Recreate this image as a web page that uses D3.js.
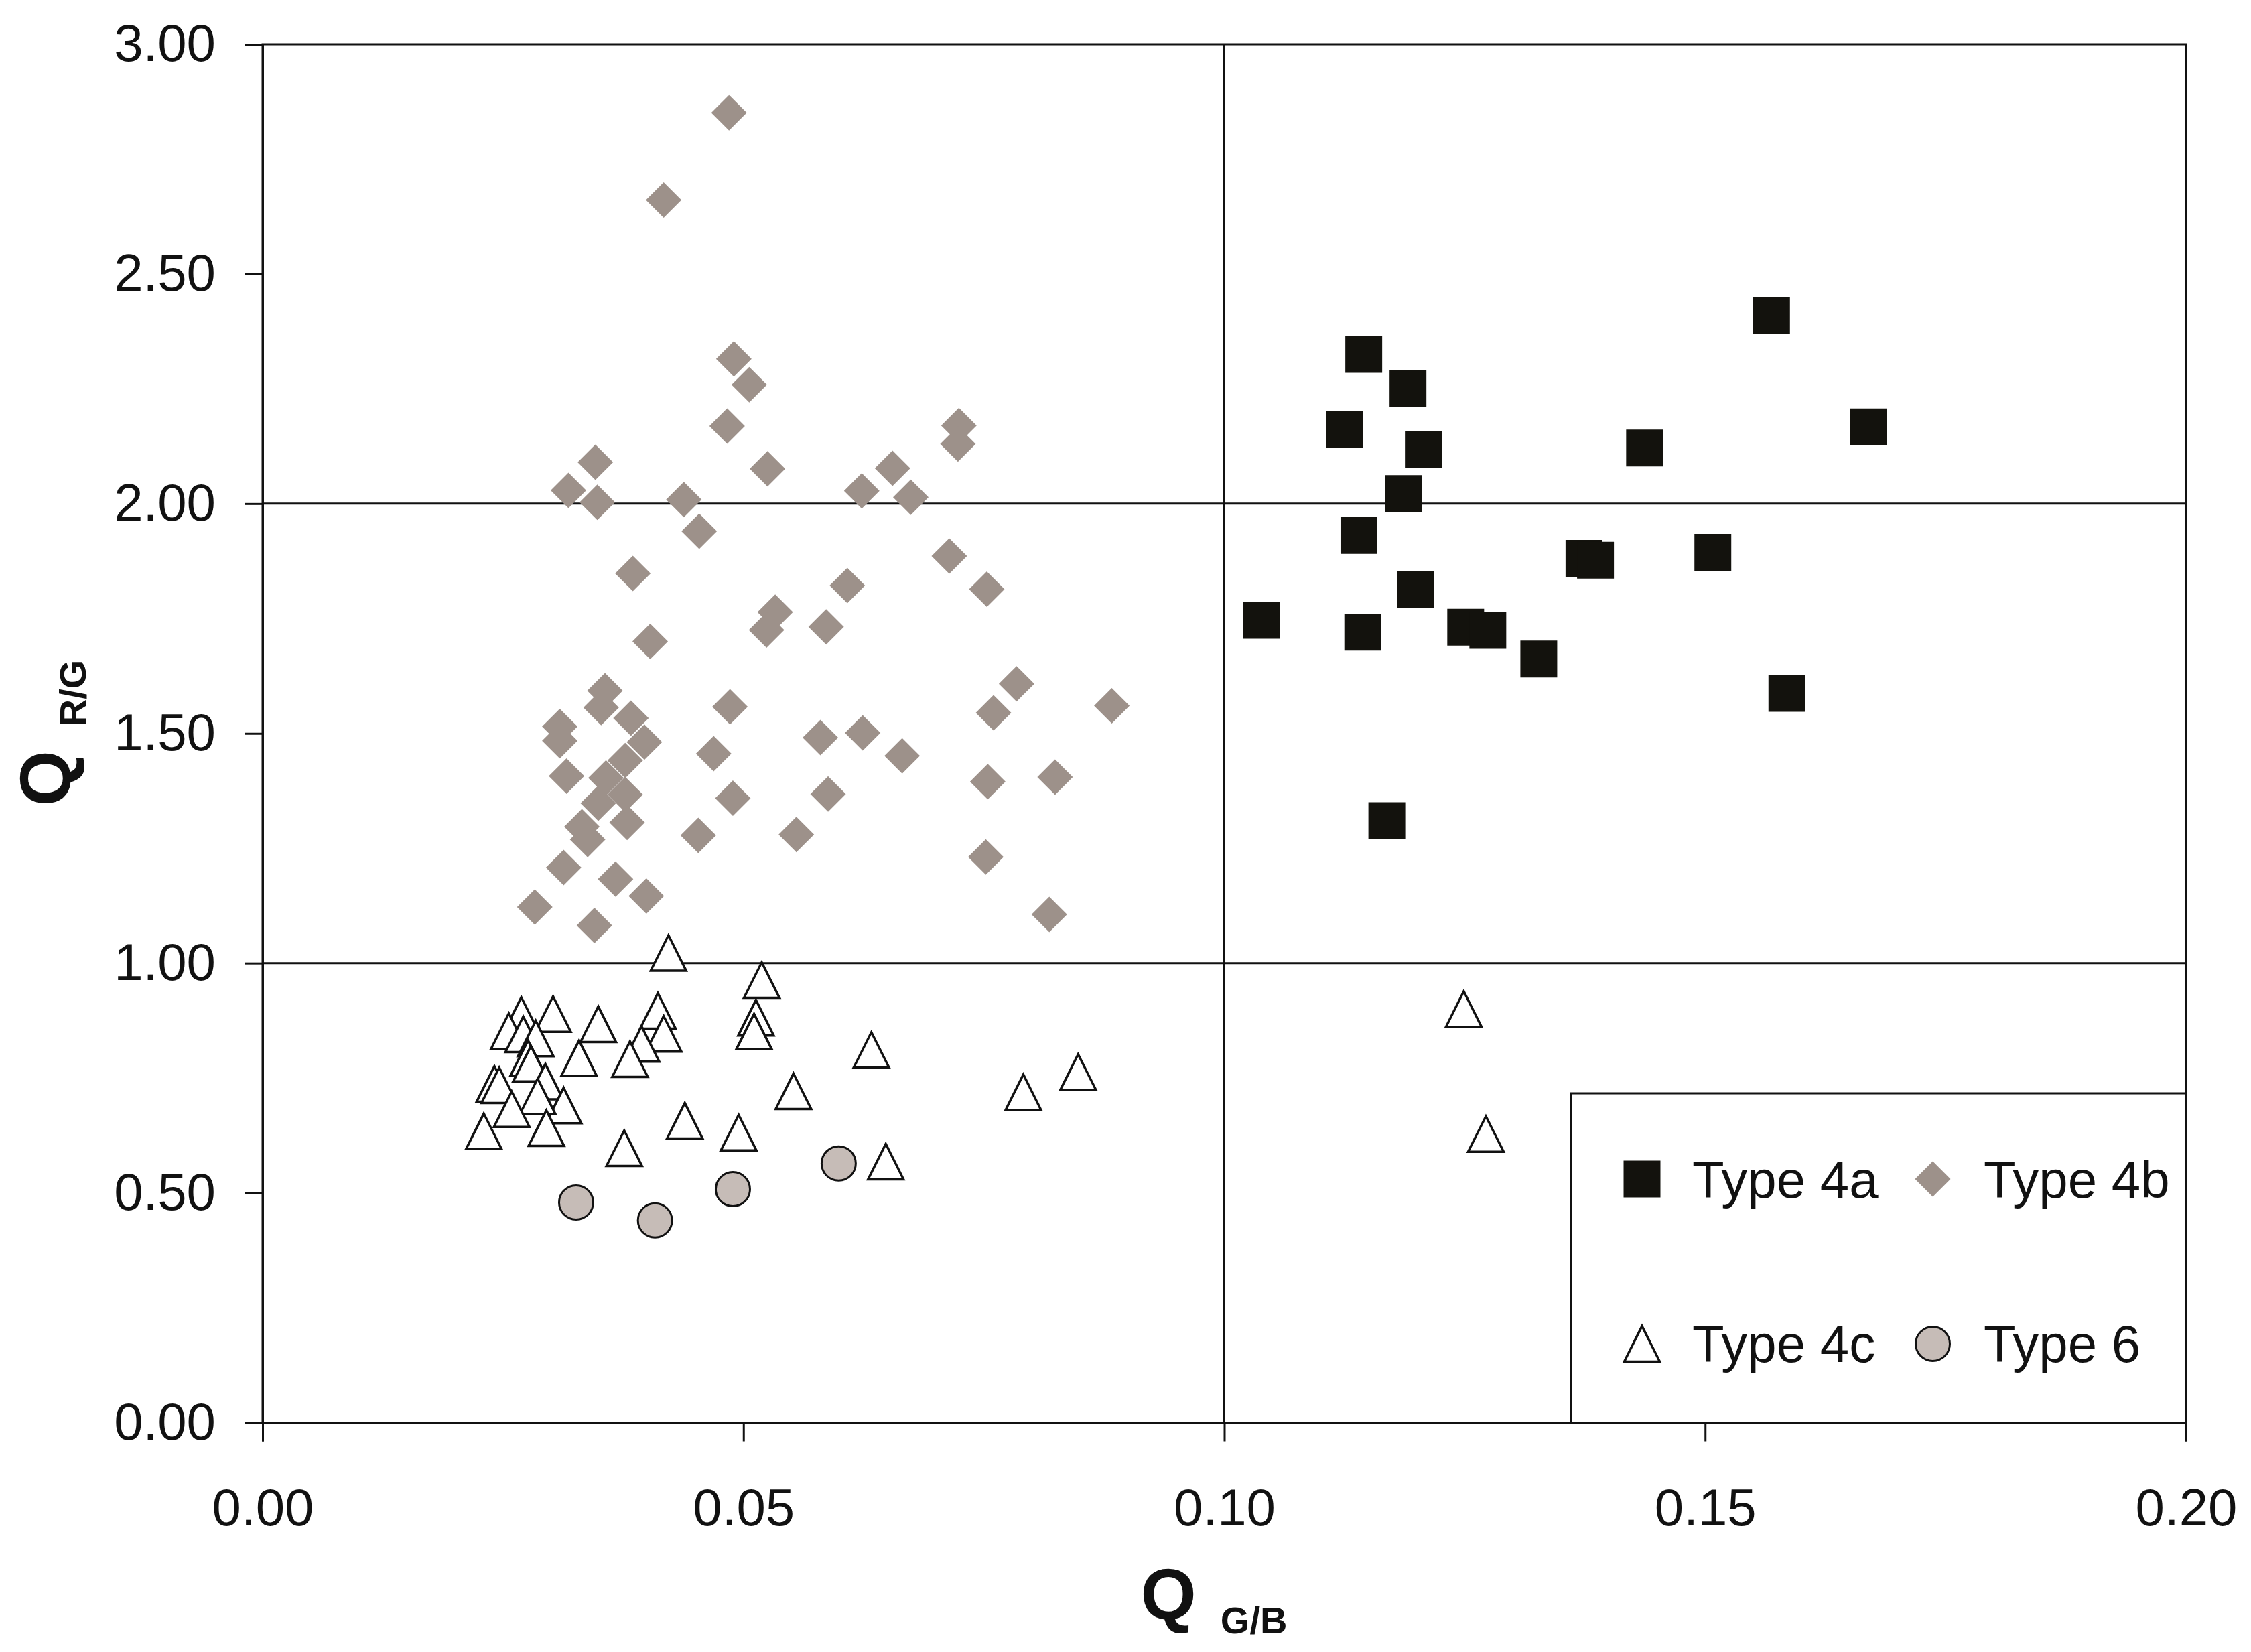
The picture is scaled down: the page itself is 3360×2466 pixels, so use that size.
<!DOCTYPE html>
<html>
<head>
<meta charset="utf-8">
<script src="https://cdn.jsdelivr.net/npm/d3@7"></script>
<style>
  html, body { margin: 0; padding: 0; background: #fff; }
  svg { display: block; }
  text { font-family: "Liberation Sans", Arial, sans-serif; fill: #111; }
</style>
</head>
<body>
<svg id="chart" width="3360" height="2466"></svg>
<script>
// ---------- data ----------
const xTicks = [0, 0.05, 0.10, 0.15, 0.20];
const yTicks = [0, 0.5, 1.0, 1.5, 2.0, 2.5, 3.0];
const xGrid = [0.10];
const yGrid = [1.0, 2.0];

const seriesNames = ["Type 4a", "Type 4b", "Type 4c", "Type 6"];

const type4a = [
  [0.1039, 1.746], [0.1125, 2.161], [0.1145, 2.325], [0.1140, 1.931],
  [0.1144, 1.720], [0.1169, 1.310], [0.1191, 2.250], [0.1186, 2.022],
  [0.1207, 2.118], [0.1199, 1.814], [0.1251, 1.731], [0.1274, 1.724],
  [0.1327, 1.662], [0.1374, 1.881], [0.1386, 1.877], [0.1437, 2.121],
  [0.1508, 1.894], [0.1569, 2.410], [0.1585, 1.587], [0.1670, 2.167]
];

const type4b = [
  [0.0485, 2.851], [0.0417, 2.661], [0.0490, 2.315], [0.0506, 2.259],
  [0.0483, 2.169], [0.0525, 2.076], [0.0346, 2.090], [0.0318, 2.029],
  [0.0348, 2.003], [0.0438, 2.009], [0.0454, 1.940], [0.0385, 1.848],
  [0.0403, 1.700], [0.0533, 1.764], [0.0524, 1.725], [0.0586, 1.732],
  [0.0724, 2.170], [0.0723, 2.130], [0.0655, 2.077], [0.0623, 2.028],
  [0.0674, 2.014], [0.0714, 1.886], [0.0753, 1.814], [0.0608, 1.822],
  [0.0784, 1.608], [0.0760, 1.545], [0.0883, 1.560], [0.0580, 1.491],
  [0.0624, 1.501], [0.0665, 1.451], [0.0754, 1.395], [0.0824, 1.405],
  [0.0588, 1.368], [0.0555, 1.280], [0.0752, 1.231], [0.0818, 1.106],
  [0.0309, 1.515], [0.0309, 1.484], [0.0316, 1.407], [0.0486, 1.558],
  [0.0469, 1.456], [0.0489, 1.359], [0.0453, 1.278], [0.0313, 1.208],
  [0.0283, 1.122], [0.0367, 1.183], [0.0399, 1.146], [0.0345, 1.082],
  [0.0332, 1.297], [0.0338, 1.269], [0.0379, 1.306], [0.0356, 1.593],
  [0.0352, 1.556], [0.0383, 1.533], [0.0397, 1.481], [0.0377, 1.441],
  [0.0357, 1.403], [0.0377, 1.367], [0.0349, 1.348]
];

const type4c = [
  [0.0422, 1.022], [0.0519, 0.963], [0.0513, 0.881], [0.0511, 0.851],
  [0.0633, 0.811], [0.0552, 0.721], [0.0439, 0.657], [0.0495, 0.631],
  [0.0376, 0.597], [0.0648, 0.568], [0.0411, 0.896], [0.0417, 0.846],
  [0.0394, 0.824], [0.0382, 0.791], [0.0349, 0.867], [0.0329, 0.793],
  [0.0302, 0.889], [0.0269, 0.887], [0.0256, 0.852], [0.0271, 0.845],
  [0.0284, 0.836], [0.0276, 0.793], [0.0279, 0.781], [0.0241, 0.737],
  [0.0246, 0.734], [0.0294, 0.742], [0.0313, 0.690], [0.0286, 0.710],
  [0.0259, 0.682], [0.0295, 0.641], [0.0230, 0.634], [0.0791, 0.719],
  [0.0848, 0.763], [0.1249, 0.900], [0.1272, 0.628]
];

const type6 = [
  [0.0326, 0.479], [0.0408, 0.440], [0.0489, 0.508], [0.0599, 0.564]
];

// ---------- layout ----------
const svg = d3.select("#chart");
const plot = { left: 392, right: 3263, top: 66, bottom: 2123.5 };
const x = d3.scaleLinear().domain([0, 0.2]).range([plot.left, plot.right]);
const y = d3.scaleLinear().domain([0, 3]).range([plot.bottom, plot.top]);

const INK = "#111";
const LW = 3;

// custom symbol types
const squareSym = { draw(ctx, size) { const h = Math.sqrt(size) / 2;
  ctx.moveTo(-h, -h); ctx.lineTo(h, -h); ctx.lineTo(h, h); ctx.lineTo(-h, h); ctx.closePath(); } };
const diamondSym = { draw(ctx, size) { const h = Math.sqrt(size) / 2;
  ctx.moveTo(0, -h); ctx.lineTo(h, 0); ctx.lineTo(0, h); ctx.lineTo(-h, 0); ctx.closePath(); } };
const triSym = { draw(ctx, size) { const h = Math.sqrt(size) / 2;
  ctx.moveTo(0, -h); ctx.lineTo(h, h); ctx.lineTo(-h, h); ctx.closePath(); } };

const styles = {
  "Type 4a": { type: squareSym, size: 55 * 55, fill: "#13120d", stroke: "none", sw: 0 },
  "Type 4b": { type: diamondSym, size: 53 * 53, fill: "#9d918a", stroke: "none", sw: 0 },
  "Type 4c": { type: triSym, size: 53 * 53, fill: "#ffffff", stroke: INK, sw: 3.5 },
  "Type 6":  { type: d3.symbolCircle, size: Math.PI * 25.5 * 25.5, fill: "#c6bcb7", stroke: INK, sw: 3 }
};

// ---------- grid ----------
svg.append("g").selectAll("line").data(yGrid).join("line")
  .attr("x1", plot.left).attr("x2", plot.right)
  .attr("y1", d => y(d)).attr("y2", d => y(d))
  .attr("stroke", INK).attr("stroke-width", LW);
svg.append("g").selectAll("line").data(xGrid).join("line")
  .attr("x1", d => x(d)).attr("x2", d => x(d))
  .attr("y1", plot.top).attr("y2", plot.bottom)
  .attr("stroke", INK).attr("stroke-width", LW);

// ---------- frame ----------
svg.append("rect")
  .attr("x", plot.left).attr("y", plot.top)
  .attr("width", plot.right - plot.left).attr("height", plot.bottom - plot.top)
  .attr("fill", "none").attr("stroke", INK).attr("stroke-width", LW);

// ---------- axes ----------
const fmt = d3.format(".2f");
const xAxis = svg.append("g").attr("transform", `translate(0,${plot.bottom})`)
  .call(d3.axisBottom(x).tickValues(xTicks).tickFormat(fmt).tickSize(28).tickPadding(70));
const yAxis = svg.append("g").attr("transform", `translate(${plot.left},0)`)
  .call(d3.axisLeft(y).tickValues(yTicks).tickFormat(fmt).tickSize(27).tickPadding(43));
[xAxis, yAxis].forEach(g => {
  g.select(".domain").attr("stroke", INK).attr("stroke-width", LW);
  g.selectAll(".tick line").attr("stroke", INK).attr("stroke-width", LW);
  g.selectAll(".tick text").attr("font-size", 78).attr("fill", INK)
    .style("font-family", '"Liberation Sans", Arial, sans-serif');
});

// ---------- points ----------
const allSeries = [
  ["Type 4a", type4a], ["Type 4b", type4b], ["Type 4c", type4c], ["Type 6", type6]
];
allSeries.forEach(([name, pts]) => {
  const st = styles[name];
  const sym = d3.symbol().type(st.type).size(st.size);
  svg.append("g").selectAll("path").data(pts).join("path")
    .attr("d", sym)
    .attr("transform", d => `translate(${x(d[0])},${y(d[1])})`)
    .attr("fill", st.fill)
    .attr("stroke", st.stroke)
    .attr("stroke-width", st.sw);
});

// ---------- legend ----------
const legend = svg.append("g");
legend.append("rect")
  .attr("x", 2345).attr("y", 1632).attr("width", plot.right - 2345).attr("height", plot.bottom - 1632)
  .attr("fill", "#fff").attr("stroke", INK).attr("stroke-width", LW);
const legPos = [
  { mx: 2451, my: 1760, tx: 2526, ty: 1788 },
  { mx: 2885, my: 1760, tx: 2961, ty: 1788 },
  { mx: 2451, my: 2006, tx: 2526, ty: 2033 },
  { mx: 2885, my: 2006, tx: 2961, ty: 2033 }
];
seriesNames.forEach((name, i) => {
  const st = styles[name], p = legPos[i];
  legend.append("path")
    .attr("d", d3.symbol().type(st.type).size(st.size)())
    .attr("transform", `translate(${p.mx},${p.my})`)
    .attr("fill", st.fill).attr("stroke", st.stroke).attr("stroke-width", st.sw);
  legend.append("text").attr("x", p.tx).attr("y", p.ty)
    .attr("font-size", 78).text(name);
});

// ---------- axis titles ----------
const xt = svg.append("text")
  .attr("transform", "translate(1812,2417)")
  .attr("text-anchor", "middle").attr("font-weight", "bold");
xt.append("tspan").attr("font-size", 107).text("Q");
xt.append("tspan").attr("font-size", 56).attr("dx", 36).attr("dy", 21).text("G/B");

const yt = svg.append("text")
  .attr("transform", "translate(105,1094) rotate(-90)")
  .attr("text-anchor", "middle").attr("font-weight", "bold");
yt.append("tspan").attr("font-size", 107).text("Q");
yt.append("tspan").attr("font-size", 56).attr("dx", 36).attr("dy", 23).text("R/G");
</script>
</body>
</html>
